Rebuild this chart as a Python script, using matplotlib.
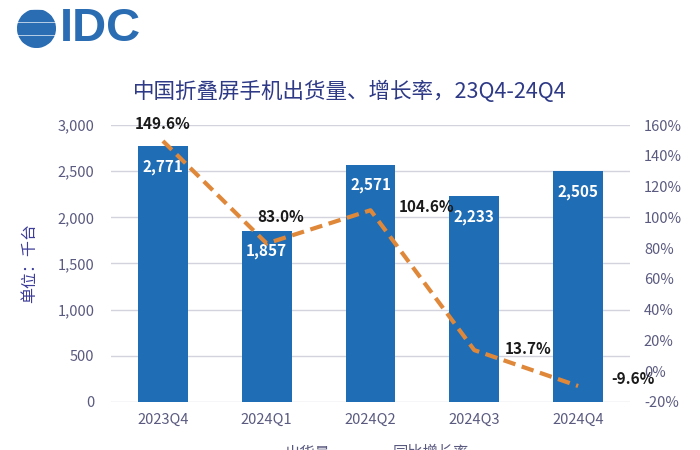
import matplotlib
matplotlib.use("Agg")
import matplotlib.pyplot as plt
import numpy as np
from matplotlib.patches import Circle, Rectangle
from matplotlib.lines import Line2D
from matplotlib.ticker import FuncFormatter, MultipleLocator

plt.rcParams['font.family'] = ['Noto Sans CJK SC', 'DejaVu Sans']

categories = ["2023Q4", "2024Q1", "2024Q2", "2024Q3", "2024Q4"]
shipments = [2771, 1857, 2571, 2233, 2505]
growth = [149.6, 83.0, 104.6, 13.7, -9.6]
title = "中国折叠屏手机出货量、增长率，23Q4-24Q4"
ylabel = "单位：千台"
legend_labels = ["出货量", "同比增长率"]

BAR = "#1F6DB5"
LINE = "#E0883A"
TICK = "#5A5A80"

fig = plt.figure(figsize=(7, 4.5), dpi=100)
ax = fig.add_axes([0.1586, 0.1067, 0.9 - 0.1586, 0.7222 - 0.1067])
x = np.arange(len(categories))
bars = ax.bar(x, shipments, width=0.48, color=BAR, zorder=2)
ax.set_xlim(-0.5, 4.5)
ax.set_ylim(0, 3000)
ax.yaxis.set_major_locator(MultipleLocator(500))
ax.yaxis.set_major_formatter(FuncFormatter(lambda v, p: f"{int(v):,}"))
ax.grid(axis='y', color="#D3D3DE", linewidth=1, zorder=0)
for s in ax.spines.values():
    s.set_visible(False)
ax.tick_params(axis='both', length=0, labelsize=10.5, colors=TICK, pad=12)
ax.set_xticks(x)
ax.set_xticklabels(categories)
ax.tick_params(axis='x', pad=8)
ax.set_ylabel(ylabel, color="#3D3D9A", fontsize=11.5, labelpad=14)

for xi, v in zip(x, shipments):
    ax.annotate(f"{v:,}", (xi, v), xytext=(0, -15), textcoords='offset points',
                ha='center', va='center', color='white', fontsize=11, fontweight='bold', zorder=4)

ax2 = ax.twinx()
ax2.set_ylim(-20, 160)
ax2.yaxis.set_major_locator(MultipleLocator(20))
ax2.yaxis.set_major_formatter(FuncFormatter(lambda v, p: f"{int(round(v))}%"))
for s in ax2.spines.values():
    s.set_visible(False)
ax2.tick_params(axis='y', length=0, labelsize=10.5, colors=TICK, pad=10)
ax2.plot(x, growth, color=LINE, linewidth=3, linestyle=(0, (3, 1.6)), zorder=5)

offsets = [(0, 12, 'center'), (10, 19, 'center'), (20, 2, 'left'), (22, 1, 'left'), (24, 5, 'left')]
for xi, g, (dx, dy, ha) in zip(x, growth, offsets):
    ax2.annotate(f"{g:.1f}%", (xi, g), xytext=(dx, dy), textcoords='offset points',
                 ha=ha, va='center', color='#1A1A1A', fontsize=11, fontweight='bold', zorder=6)

fig.text(0.5, 1 - 92 / 450, title, ha='center', va='center', fontsize=15.5, color="#2E3A86")

# IDC logo
lax = fig.add_axes([17 / 700, 1 - 48 / 450, 39 / 700, 39 / 450])
lax.set_xlim(-1, 1)
lax.set_ylim(-1, 1)
lax.set_aspect('equal')
lax.axis('off')
circ = Circle((0, 0), 1, transform=lax.transData)
for i, yy in enumerate(np.linspace(-1, 1, 7)[:-1]):
    r = Rectangle((-1, yy + 0.05), 2, 2 / 6 - 0.1, color="#2B6DB3")
    r.set_clip_path(circ)
    lax.add_patch(r)
fig.text(60 / 700, 1 - 29 / 450, "IDC", fontsize=34, fontweight='bold', color="#2B6DB3",
         ha='left', va='center', family='Liberation Sans')

handles = [Line2D([0], [0], color=BAR, linewidth=3),
           Line2D([0], [0], color=LINE, linewidth=3, linestyle=(0, (3, 1.6)))]
fig.legend(handles, legend_labels, loc='center', bbox_to_anchor=(0.507, -0.006), ncol=2,
           frameon=False, fontsize=11, labelcolor=TICK, handlelength=2.3, handletextpad=0.5,
           columnspacing=1.3)

fig.savefig("out.png", dpi=100, facecolor='white')
